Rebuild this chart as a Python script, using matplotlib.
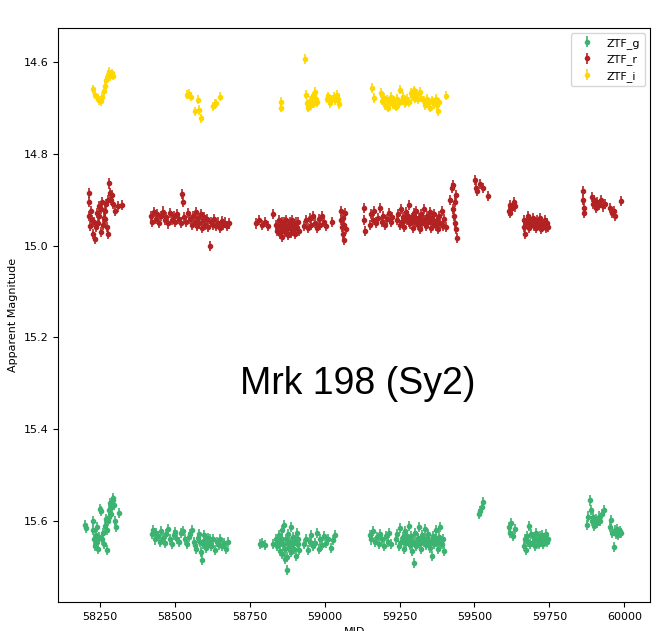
"""
plot.py
ZTF light curve of Mrk 198 (g, r, i bands)
"""

import matplotlib.pyplot as plt

# (MJD, mag) per observing season
g_season1 = [(58200, 15.609), (58202, 15.615), (58226, 15.600), (58228, 15.620), (58230, 15.640),
             (58233, 15.655), (58236, 15.630), (58239, 15.612), (58241, 15.645), (58244, 15.660),
             (58247, 15.635), (58250, 15.573), (58252, 15.578), (58258, 15.640), (58261, 15.625),
             (58264, 15.650), (58268, 15.610), (58270, 15.595), (58272, 15.663), (58274, 15.620),
             (58276, 15.600), (58279, 15.590), (58281, 15.575), (58283, 15.560), (58286, 15.585),
             (58289, 15.570), (58292, 15.555), (58294, 15.550), (58297, 15.565), (58300, 15.600),
             (58303, 15.612), (58314, 15.583)]
g_season2 = [(58422, 15.628), (58428, 15.620), (58433, 15.640), (58438, 15.625), (58444, 15.632),
             (58450, 15.645), (58455, 15.622), (58461, 15.636), (58466, 15.648), (58472, 15.628),
             (58478, 15.618), (58484, 15.640), (58490, 15.650), (58496, 15.630), (58502, 15.624),
             (58508, 15.638), (58514, 15.646), (58520, 15.626), (58527, 15.622), (58533, 15.640),
             (58540, 15.650), (58546, 15.634), (58552, 15.628), (58558, 15.620), (58563, 15.645),
             (58568, 15.652), (58572, 15.660), (58577, 15.636), (58581, 15.628), (58586, 15.668),
             (58590, 15.684), (58595, 15.650), (58600, 15.642), (58605, 15.658), (58610, 15.636),
             (58616, 15.648), (58622, 15.655), (58628, 15.640), (58634, 15.662), (58640, 15.646),
             (58646, 15.652), (58652, 15.638), (58658, 15.655), (58664, 15.648), (58670, 15.660),
             (58676, 15.645), (58584, 15.645), (58598, 15.630), (58608, 15.650), (58618, 15.638)]
g_season3 = [(58783, 15.650), (58790, 15.648), (58800, 15.652), (58826, 15.650), (58838, 15.640),
             (58842, 15.655), (58846, 15.630), (58850, 15.665), (58853, 15.645), (58856, 15.620),
             (58859, 15.672), (58862, 15.650), (58865, 15.608), (58868, 15.660), (58870, 15.640),
             (58873, 15.707), (58875, 15.678), (58878, 15.628), (58880, 15.655), (58883, 15.645),
             (58886, 15.612), (58889, 15.668), (58892, 15.650), (58895, 15.635), (58898, 15.660),
             (58901, 15.642), (58904, 15.675), (58907, 15.625), (58910, 15.650), (58913, 15.662),
             (58932, 15.650), (58938, 15.640), (58944, 15.662), (58950, 15.645), (58956, 15.630),
             (58962, 15.655), (58968, 15.648), (58974, 15.625), (58980, 15.660), (58986, 15.640),
             (58992, 15.652), (58998, 15.632), (59004, 15.648), (59012, 15.638), (59020, 15.658),
             (59028, 15.642), (59036, 15.630), (58848, 15.648), (58858, 15.638), (58866, 15.682),
             (58876, 15.650), (58884, 15.662), (58896, 15.648), (58906, 15.645), (58912, 15.638)]
g_season4 = [(59150, 15.630), (59156, 15.640), (59162, 15.622), (59168, 15.645), (59174, 15.635),
             (59180, 15.650), (59186, 15.628), (59192, 15.640), (59198, 15.655), (59204, 15.632),
             (59210, 15.645), (59216, 15.625), (59222, 15.650), (59238, 15.640), (59243, 15.628),
             (59248, 15.655), (59252, 15.615), (59256, 15.645), (59260, 15.635), (59264, 15.660),
             (59268, 15.622), (59272, 15.648), (59276, 15.640), (59280, 15.610), (59284, 15.652),
             (59288, 15.632), (59292, 15.665), (59296, 15.645), (59298, 15.692), (59302, 15.625),
             (59306, 15.655), (59310, 15.638), (59314, 15.612), (59318, 15.648), (59322, 15.660),
             (59326, 15.630), (59330, 15.645), (59334, 15.618), (59338, 15.652), (59342, 15.640),
             (59346, 15.628), (59350, 15.658), (59354, 15.645), (59358, 15.675), (59362, 15.632),
             (59366, 15.650), (59370, 15.620), (59374, 15.645), (59378, 15.660), (59382, 15.635),
             (59386, 15.612), (59390, 15.650), (59394, 15.640), (59397, 15.665), (59266, 15.640),
             (59274, 15.632), (59286, 15.642), (59300, 15.648), (59312, 15.636), (59324, 15.644),
             (59336, 15.640), (59348, 15.645), (59360, 15.642), (59372, 15.638), (59384, 15.648)]
g_season5 = [(59514, 15.585), (59517, 15.578), (59524, 15.570), (59530, 15.558)]
g_season6 = [(59614, 15.612), (59618, 15.625), (59622, 15.605), (59628, 15.632), (59634, 15.618),
             (59664, 15.655), (59668, 15.640), (59672, 15.662), (59676, 15.632), (59680, 15.645),
             (59683, 15.610), (59686, 15.650), (59690, 15.628), (59694, 15.645), (59698, 15.635),
             (59702, 15.655), (59706, 15.625), (59710, 15.642), (59714, 15.650), (59718, 15.632),
             (59722, 15.645), (59726, 15.630), (59730, 15.650), (59734, 15.638), (59738, 15.628),
             (59742, 15.645), (59746, 15.640)]
g_season7 = [(59876, 15.608), (59880, 15.590), (59884, 15.555), (59888, 15.575), (59892, 15.600),
             (59896, 15.590), (59900, 15.610), (59905, 15.595), (59910, 15.605), (59915, 15.590),
             (59920, 15.600), (59926, 15.585), (59932, 15.575), (59952, 15.612), (59956, 15.598),
             (59960, 15.625), (59965, 15.656), (59968, 15.620), (59972, 15.628), (59976, 15.618),
             (59980, 15.630), (59985, 15.622), (59990, 15.625)]

r_season1 = [(58213, 14.885), (58214, 14.905), (58215, 14.935), (58216, 14.958), (58220, 14.925),
             (58225, 14.945), (58228, 14.975), (58232, 14.985), (58236, 14.960), (58240, 14.930),
             (58244, 14.950), (58248, 14.915), (58252, 14.970), (58255, 14.920), (58258, 14.905),
             (58262, 14.940), (58266, 14.925), (58270, 14.910), (58273, 14.960), (58276, 14.975),
             (58278, 14.900), (58281, 14.865), (58283, 14.885), (58286, 14.900), (58290, 14.890),
             (58294, 14.910), (58300, 14.925), (58310, 14.915), (58322, 14.912), (58230, 14.948),
             (58246, 14.935), (58260, 14.955), (58268, 14.942)]
r_season2 = [(58420, 14.935), (58425, 14.948), (58430, 14.928), (58436, 14.942), (58442, 14.932),
             (58448, 14.950), (58454, 14.936), (58460, 14.926), (58466, 14.945), (58472, 14.938),
             (58478, 14.952), (58484, 14.930), (58490, 14.944), (58496, 14.936), (58502, 14.948),
             (58508, 14.932), (58514, 14.942), (58520, 14.950), (58525, 14.888), (58527, 14.905),
             (58532, 14.938), (58538, 14.948), (58544, 14.930), (58550, 14.942), (58556, 14.955),
             (58562, 14.935), (58566, 14.948), (58570, 14.928), (58574, 14.958), (58578, 14.940),
             (58582, 14.952), (58586, 14.932), (58590, 14.962), (58594, 14.945), (58598, 14.938),
             (58602, 14.955), (58606, 14.942), (58610, 14.960), (58616, 15.002), (58620, 14.948),
             (58626, 14.955), (58632, 14.942), (58638, 14.958), (58644, 14.950), (58650, 14.962),
             (58656, 14.946), (58662, 14.955), (58668, 14.950), (58674, 14.958), (58680, 14.952)]
r_season3 = [(58772, 14.952), (58780, 14.945), (58790, 14.955), (58800, 14.948), (58812, 14.958),
             (58826, 14.932), (58838, 14.955), (58842, 14.968), (58846, 14.945), (58850, 14.975),
             (58853, 14.958), (58856, 14.948), (58859, 14.982), (58862, 14.962), (58865, 14.950),
             (58868, 14.970), (58871, 14.945), (58874, 14.965), (58877, 14.978), (58880, 14.955),
             (58883, 14.948), (58886, 14.972), (58889, 14.960), (58892, 14.945), (58895, 14.968),
             (58898, 14.955), (58901, 14.975), (58904, 14.950), (58907, 14.962), (58910, 14.948),
             (58913, 14.968), (58932, 14.958), (58938, 14.945), (58944, 14.962), (58950, 14.940),
             (58956, 14.955), (58962, 14.935), (58968, 14.950), (58974, 14.962), (58980, 14.942),
             (58986, 14.955), (58992, 14.935), (58998, 14.948), (59004, 14.958), (59026, 14.948),
             (59054, 14.925), (59056, 14.945), (59058, 14.960), (59060, 14.975), (59062, 14.940),
             (59064, 14.988), (59066, 14.955), (59068, 14.930), (59070, 14.965), (58844, 14.958),
             (58858, 14.965), (58866, 14.958), (58876, 14.962), (58888, 14.955), (58900, 14.960)]
r_season4 = [(59131, 14.918), (59132, 14.945), (59133, 14.968), (59150, 14.955), (59155, 14.932),
             (59160, 14.945), (59165, 14.925), (59170, 14.950), (59178, 14.940), (59184, 14.918),
             (59190, 14.948), (59196, 14.935), (59202, 14.955), (59208, 14.942), (59214, 14.930),
             (59220, 14.948), (59226, 14.938), (59242, 14.945), (59246, 14.932), (59250, 14.955),
             (59254, 14.920), (59258, 14.948), (59262, 14.938), (59266, 14.960), (59270, 14.928),
             (59274, 14.945), (59278, 14.935), (59282, 14.912), (59286, 14.952), (59290, 14.940),
             (59294, 14.962), (59298, 14.930), (59302, 14.948), (59306, 14.925), (59310, 14.955),
             (59314, 14.940), (59318, 14.965), (59322, 14.932), (59326, 14.950), (59330, 14.920),
             (59334, 14.945), (59338, 14.958), (59342, 14.935), (59346, 14.948), (59350, 14.928),
             (59354, 14.962), (59358, 14.940), (59362, 14.952), (59366, 14.932), (59370, 14.958),
             (59374, 14.945), (59378, 14.965), (59382, 14.935), (59386, 14.950), (59390, 14.925),
             (59394, 14.958), (59398, 14.942), (59405, 14.959), (59420, 14.900), (59424, 14.875),
             (59428, 14.920), (59430, 14.868), (59432, 14.935), (59434, 14.905), (59436, 14.950),
             (59438, 14.890), (59440, 14.965), (59442, 14.984), (59268, 14.942), (59280, 14.948),
             (59292, 14.945), (59304, 14.940), (59316, 14.948), (59328, 14.942), (59340, 14.946),
             (59352, 14.944), (59364, 14.946), (59376, 14.950)]
r_season5 = [(59503, 14.857), (59505, 14.875), (59510, 14.882), (59520, 14.866), (59527, 14.874),
             (59545, 14.893)]
r_season6 = [(59614, 14.925), (59617, 14.912), (59620, 14.930), (59626, 14.918), (59632, 14.905),
             (59636, 14.915), (59664, 14.960), (59667, 14.945), (59670, 14.975), (59674, 14.950),
             (59678, 14.935), (59682, 14.962), (59686, 14.945), (59690, 14.955), (59694, 14.940),
             (59698, 14.958), (59702, 14.948), (59706, 14.962), (59710, 14.945), (59714, 14.955),
             (59718, 14.940), (59722, 14.965), (59726, 14.950), (59730, 14.958), (59734, 14.945),
             (59738, 14.962), (59742, 14.952), (59746, 14.960)]
r_season7 = [(59862, 14.882), (59863, 14.900), (59864, 14.918), (59865, 14.930), (59891, 14.895),
             (59895, 14.910), (59900, 14.900), (59905, 14.918), (59910, 14.905), (59915, 14.912),
             (59922, 14.900), (59928, 14.915), (59935, 14.910), (59952, 14.918), (59958, 14.930),
             (59965, 14.925), (59969, 14.935), (59989, 14.904)]

i_season1 = [(58227, 14.660), (58235, 14.672), (58242, 14.680), (58248, 14.684), (58253, 14.686),
             (58258, 14.676), (58262, 14.664), (58266, 14.652), (58270, 14.640), (58276, 14.628),
             (58280, 14.622), (58285, 14.632), (58289, 14.625), (58292, 14.630)]
i_season2 = [(58541, 14.672), (58548, 14.670), (58555, 14.676), (58566, 14.708), (58577, 14.683),
             (58582, 14.705), (58588, 14.723), (58627, 14.697), (58633, 14.692), (58638, 14.690),
             (58649, 14.676)]
i_season3 = [(58854, 14.687), (58855, 14.700), (58935, 14.594), (58937, 14.672), (58942, 14.690),
             (58946, 14.700), (58950, 14.685), (58953, 14.695), (58957, 14.680), (58960, 14.675),
             (58965, 14.690), (58969, 14.665), (58972, 14.680), (58975, 14.688), (59008, 14.680),
             (59012, 14.675), (59018, 14.690), (59024, 14.682), (59030, 14.676), (59035, 14.684),
             (59040, 14.672), (59046, 14.680), (59048, 14.692)]
i_season4 = [(59157, 14.657), (59165, 14.679), (59187, 14.668), (59192, 14.685), (59197, 14.678),
             (59202, 14.695), (59207, 14.682), (59212, 14.700), (59217, 14.688), (59222, 14.676),
             (59227, 14.692), (59232, 14.684), (59237, 14.698), (59242, 14.680), (59247, 14.690),
             (59253, 14.661), (59258, 14.684), (59263, 14.676), (59268, 14.690), (59274, 14.680),
             (59280, 14.688), (59287, 14.668), (59292, 14.675), (59297, 14.662), (59302, 14.680),
             (59307, 14.670), (59312, 14.682), (59318, 14.665), (59322, 14.678), (59331, 14.685),
             (59336, 14.695), (59341, 14.680), (59346, 14.690), (59352, 14.700), (59358, 14.684),
             (59364, 14.692), (59370, 14.680), (59375, 14.695), (59379, 14.708), (59383, 14.688),
             (59406, 14.674)]

g_err = 0.011
r_err = 0.011
i_err = 0.010

bands = [
    ("ZTF_g", g_season1 + g_season2 + g_season3 + g_season4 + g_season5 + g_season6 + g_season7,
     g_err, "mediumseagreen"),
    ("ZTF_r", r_season1 + r_season2 + r_season3 + r_season4 + r_season5 + r_season6 + r_season7,
     r_err, "firebrick"),
    ("ZTF_i", i_season1 + i_season2 + i_season3 + i_season4, i_err, "gold"),
]

fig = plt.figure(figsize=(6.67, 6.31), dpi=100)
ax = fig.add_axes([0.087, 0.046, 0.888, 0.910])

for name, points, err, color in bands:
    mjd = [p[0] for p in points]
    mag = [p[1] for p in points]
    ax.errorbar(mjd, mag, yerr=err, fmt="o", ms=3, color=color,
                elinewidth=1.2, capsize=0, label=name)

ax.text(59110, 15.302, "Mrk 198 (Sy2)", fontsize=27, family="Liberation Sans",
        ha="center", va="center")

ax.set_xlim(58110, 60087)
ax.set_ylim(15.776, 14.526)
ax.set_xticks([58250, 58500, 58750, 59000, 59250, 59500, 59750, 60000])
ax.set_yticks([14.6, 14.8, 15.0, 15.2, 15.4, 15.6])
ax.tick_params(labelsize=8)
ax.set_xlabel("MJD", fontsize=8)
ax.set_ylabel("Apparent Magnitude", fontsize=8)
ax.legend(loc="upper right", fontsize=8)

fig.savefig("out.png", dpi=100)
